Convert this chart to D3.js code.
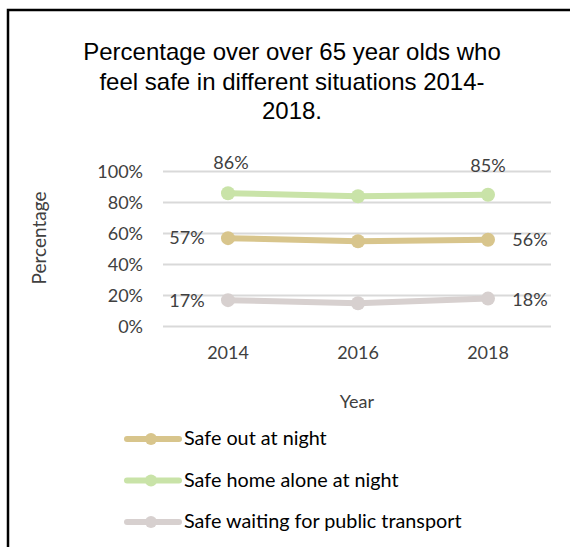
<!DOCTYPE html>
<html lang="en">
<head>
    <meta charset="UTF-8">
    <title>Feel safe 2014-2018</title>
    <style>
        body { margin: 0; background: #fff; }
    </style>
</head>
<body>
<script type='text/javascript' src='https://d3js.org/d3.v7.min.js'></script>
<script>
    const years = ["2014", "2016", "2018"];
    const outAtNight = [57, 55, 56];
    const homeAlone = [86, 84, 85];
    const publicTransport = [17, 15, 18];
    const seriesNames = ["Safe out at night", "Safe home alone at night", "Safe waiting for public transport"];
    const seriesColors = ["#d8c58c", "#c9e3a8", "#d7d0cf"];
    const yTicks = [0, 20, 40, 60, 80, 100];
    const titleLines = ["Percentage over over 65 year olds who", "feel safe in different situations 2014-", "2018."];

    const width = 570, height = 547;
    const bodyFont = "Lato, 'Open Sans', sans-serif";
    const textColor = "#404040";

    const svg = d3.select("body").append("svg")
        .attr("width", width)
        .attr("height", height);

    // frame (left and top edges only are visible)
    svg.append("path")
        .attr("d", "M8,547 L8,10 L570,10")
        .attr("fill", "none")
        .attr("stroke", "#000")
        .attr("stroke-width", 2.5);

    svg.selectAll("text.title")
        .data(titleLines)
        .enter().append("text")
        .attr("class", "title")
        .attr("x", 292)
        .attr("y", (d, i) => 60 + i * 29.5)
        .attr("text-anchor", "middle")
        .style("font-family", "'Liberation Sans', Arial, sans-serif")
        .style("font-size", "24px")
        .style("fill", "#000")
        .text(d => d);

    const x = d3.scaleBand().domain(years).range([163, 553]);
    const y = d3.scaleLinear().domain([0, 100]).range([326.5, 171.5]);

    // gridlines
    svg.append("g")
        .selectAll("line")
        .data(yTicks)
        .enter().append("line")
        .attr("x1", 163)
        .attr("x2", 551)
        .attr("y1", d => y(d))
        .attr("y2", d => y(d))
        .attr("stroke", "#d9d9d9")
        .attr("stroke-width", 2);

    const yAxis = svg.append("g")
        .attr("transform", "translate(143,0)")
        .call(d3.axisLeft(y).tickValues(yTicks).tickSize(0).tickPadding(0).tickFormat(d => d + "%"));
    yAxis.select(".domain").remove();
    yAxis.selectAll("text")
        .style("font-family", bodyFont)
        .style("font-size", "18px")
        .style("fill", textColor);

    const xAxis = svg.append("g")
        .attr("transform", "translate(0,346)")
        .call(d3.axisBottom(x).tickSize(0).tickPadding(0));
    xAxis.select(".domain").remove();
    xAxis.selectAll("text")
        .style("font-family", bodyFont)
        .style("font-size", "18px")
        .style("fill", textColor);

    svg.append("text")
        .attr("transform", "translate(46,238) rotate(-90)")
        .attr("text-anchor", "middle")
        .style("font-family", bodyFont)
        .style("font-size", "19px")
        .style("fill", textColor)
        .text("Percentage");

    svg.append("text")
        .attr("x", 357)
        .attr("y", 408)
        .attr("text-anchor", "middle")
        .style("font-family", bodyFont)
        .style("font-size", "18px")
        .style("fill", textColor)
        .text("Year");

    const series = [outAtNight, homeAlone, publicTransport];
    const cx = d => x(d) + x.bandwidth() / 2;
    const line = d3.line()
        .x((d, i) => cx(years[i]))
        .y(d => y(d));

    series.forEach((vals, s) => {
        const g = svg.append("g");
        g.append("path")
            .datum(vals)
            .attr("fill", "none")
            .attr("stroke", seriesColors[s])
            .attr("stroke-width", 6)
            .attr("stroke-linecap", "round")
            .attr("d", line);
        g.selectAll("circle")
            .data(vals)
            .enter().append("circle")
            .attr("cx", (d, i) => cx(years[i]))
            .attr("cy", d => y(d))
            .attr("r", 7)
            .attr("fill", seriesColors[s]);
    });

    // data labels: first and last points only
    const labelPos = [
        { s: 0, i: 0, dx: -41, dy: 6 },
        { s: 0, i: 2, dx: 42, dy: 6 },
        { s: 1, i: 0, dx: 3, dy: -24 },
        { s: 1, i: 2, dx: 0, dy: -23 },
        { s: 2, i: 0, dx: -41, dy: 7 },
        { s: 2, i: 2, dx: 42, dy: 7 }
    ];
    svg.selectAll("text.lbl")
        .data(labelPos)
        .enter().append("text")
        .attr("class", "lbl")
        .attr("x", d => cx(years[d.i]) + d.dx)
        .attr("y", d => y(series[d.s][d.i]) + d.dy)
        .attr("text-anchor", "middle")
        .style("font-family", bodyFont)
        .style("font-size", "18px")
        .style("fill", textColor)
        .text(d => series[d.s][d.i] + "%");

    // legend
    const legend = svg.append("g");
    seriesNames.forEach((name, i) => {
        const ly = 439 + i * 41.5;
        legend.append("line")
            .attr("x1", 127).attr("x2", 179)
            .attr("y1", ly).attr("y2", ly)
            .attr("stroke", seriesColors[i])
            .attr("stroke-width", 6)
            .attr("stroke-linecap", "round");
        legend.append("circle")
            .attr("cx", 151).attr("cy", ly).attr("r", 6)
            .attr("fill", seriesColors[i]);
        legend.append("text")
            .attr("x", 184)
            .attr("y", ly + 6)
            .style("font-family", bodyFont)
            .style("font-size", "19.8px")
            .style("fill", "#000")
            .text(name);
    });
</script>
</body>
</html>
